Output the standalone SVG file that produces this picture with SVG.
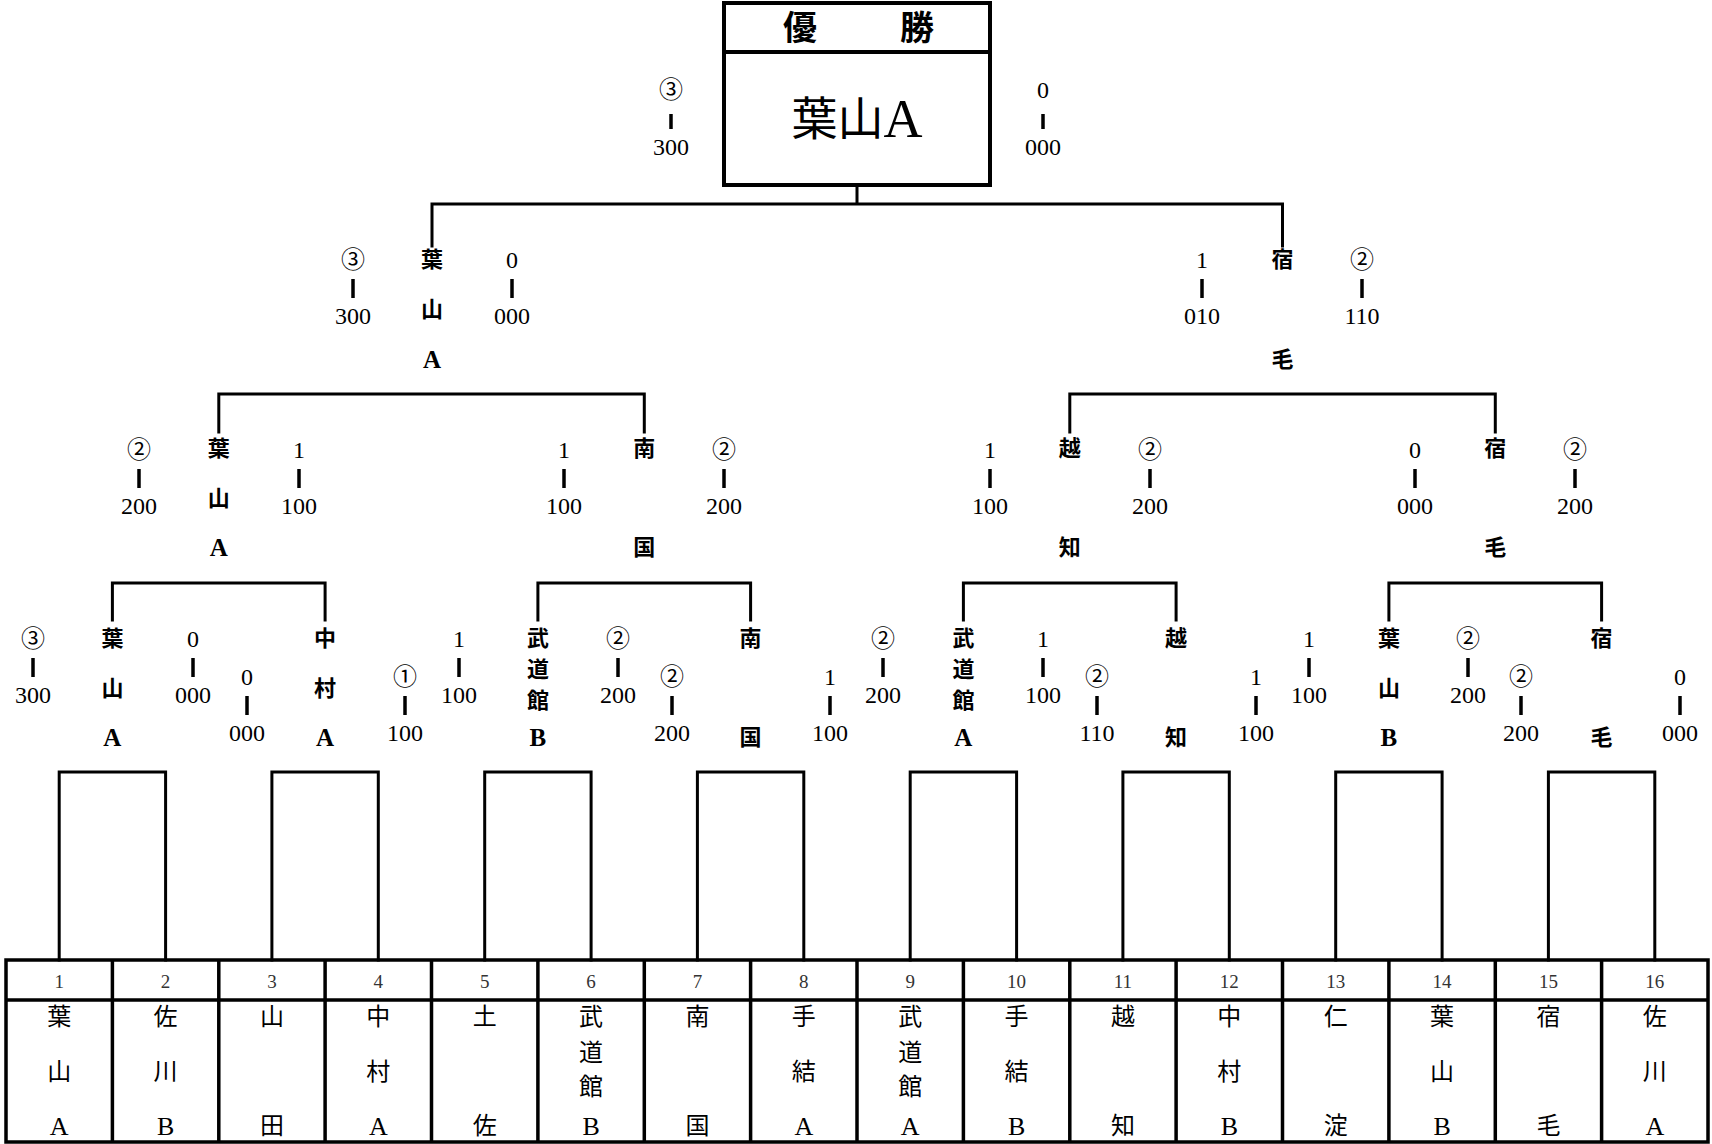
<svg xmlns="http://www.w3.org/2000/svg" width="1712" height="1144" viewBox="0 0 1712 1144">
<style>
text{text-anchor:middle;dominant-baseline:central;font-family:"Liberation Serif","Noto Sans CJK JP",serif;fill:#000}
.sc{font-size:24px}
.nm{font-size:22px;font-weight:bold}
.nm.lt{font-size:25px}
.tn{font-size:24px}
.tn.lt{font-size:26px}
.no{font-size:19px;fill:#333}
.hd{font-size:34px;font-weight:bold}
.ch{font-size:46px}
.tk{stroke:#000;stroke-width:3.5}
.ln{fill:none;stroke:#000;stroke-width:3;stroke-linejoin:miter;stroke-linecap:square}
.bx{fill:#fff;stroke:#000;stroke-width:4}
.tb{fill:none;stroke:#000;stroke-width:3.5}
</style>
<rect width="1712" height="1144" fill="#fff"/>

<g id="connectors" class="ln">
<path d="M857 186V204M432 246V204H1282.5V246"/>
<path d="M218.8 432V394H644.3V432M1069.8 432V394H1495.3V432"/>
<path d="M112.4 620V583H325.1V620M537.9 620V583H750.6V620M963.4 620V583H1176.1V620M1388.9 620V583H1601.6V620"/>
<path d="M59.2 960V772H165.6V960M271.9 960V772H378.3V960M484.7 960V772H591.1V960M697.4 960V772H803.8V960M910.2 960V772H1016.6V960M1122.9 960V772H1229.3V960M1335.7 960V772H1442.1V960M1548.4 960V772H1654.8V960"/>
</g>

<g id="champion">
<rect class="bx" x="724" y="3" width="266" height="182"/>
<line x1="724" y1="52" x2="990" y2="52" stroke="#000" stroke-width="4"/>
<text class="hd" x="800" y="28">優</text>
<text class="hd" x="917" y="28">勝</text>
<text class="ch" x="857" y="119">葉山<tspan font-size="54">A</tspan></text>
</g>

<g id="scores-final">
<g id="sf1"><text class="sc" x="671" y="90">③</text><line class="tk" x1="671" y1="114" x2="671" y2="129"/><text class="sc" x="671" y="147">300</text></g>
<g id="sf2"><text class="sc" x="1043" y="90">0</text><line class="tk" x1="1043" y1="114" x2="1043" y2="129"/><text class="sc" x="1043" y="147">000</text></g>
</g>

<g id="scores-semi">
<g id="ss1"><text class="sc" x="353" y="260">③</text><line class="tk" x1="353" y1="279" x2="353" y2="298"/><text class="sc" x="353" y="316">300</text></g>
<g id="ss2"><text class="sc" x="512" y="260">0</text><line class="tk" x1="512" y1="279" x2="512" y2="298"/><text class="sc" x="512" y="316">000</text></g>
<g id="ss3"><text class="sc" x="1202" y="260">1</text><line class="tk" x1="1202" y1="279" x2="1202" y2="298"/><text class="sc" x="1202" y="316">010</text></g>
<g id="ss4"><text class="sc" x="1362" y="260">②</text><line class="tk" x1="1362" y1="279" x2="1362" y2="298"/><text class="sc" x="1362" y="316">110</text></g>
</g>

<g id="scores-quarter">
<g id="sq1"><text class="sc" x="139" y="450">②</text><line class="tk" x1="139" y1="469" x2="139" y2="488"/><text class="sc" x="139" y="506">200</text></g>
<g id="sq2"><text class="sc" x="299" y="450">1</text><line class="tk" x1="299" y1="469" x2="299" y2="488"/><text class="sc" x="299" y="506">100</text></g>
<g id="sq3"><text class="sc" x="564" y="450">1</text><line class="tk" x1="564" y1="469" x2="564" y2="488"/><text class="sc" x="564" y="506">100</text></g>
<g id="sq4"><text class="sc" x="724" y="450">②</text><line class="tk" x1="724" y1="469" x2="724" y2="488"/><text class="sc" x="724" y="506">200</text></g>
<g id="sq5"><text class="sc" x="990" y="450">1</text><line class="tk" x1="990" y1="469" x2="990" y2="488"/><text class="sc" x="990" y="506">100</text></g>
<g id="sq6"><text class="sc" x="1150" y="450">②</text><line class="tk" x1="1150" y1="469" x2="1150" y2="488"/><text class="sc" x="1150" y="506">200</text></g>
<g id="sq7"><text class="sc" x="1415" y="450">0</text><line class="tk" x1="1415" y1="469" x2="1415" y2="488"/><text class="sc" x="1415" y="506">000</text></g>
<g id="sq8"><text class="sc" x="1575" y="450">②</text><line class="tk" x1="1575" y1="469" x2="1575" y2="488"/><text class="sc" x="1575" y="506">200</text></g>
</g>

<g id="scores-r1">
<g id="s1a"><text class="sc" x="33" y="639">③</text><line class="tk" x1="33" y1="658" x2="33" y2="677"/><text class="sc" x="33" y="695">300</text></g>
<g id="s1b"><text class="sc" x="193" y="639">0</text><line class="tk" x1="193" y1="658" x2="193" y2="677"/><text class="sc" x="193" y="695">000</text></g>
<g id="s2a"><text class="sc" x="247" y="677">0</text><line class="tk" x1="247" y1="696" x2="247" y2="715"/><text class="sc" x="247" y="733">000</text></g>
<g id="s2b"><text class="sc" x="405" y="677">①</text><line class="tk" x1="405" y1="696" x2="405" y2="715"/><text class="sc" x="405" y="733">100</text></g>
<g id="s3a"><text class="sc" x="459" y="639">1</text><line class="tk" x1="459" y1="658" x2="459" y2="677"/><text class="sc" x="459" y="695">100</text></g>
<g id="s3b"><text class="sc" x="618" y="639">②</text><line class="tk" x1="618" y1="658" x2="618" y2="677"/><text class="sc" x="618" y="695">200</text></g>
<g id="s4a"><text class="sc" x="672" y="677">②</text><line class="tk" x1="672" y1="696" x2="672" y2="715"/><text class="sc" x="672" y="733">200</text></g>
<g id="s4b"><text class="sc" x="830" y="677">1</text><line class="tk" x1="830" y1="696" x2="830" y2="715"/><text class="sc" x="830" y="733">100</text></g>
<g id="s5a"><text class="sc" x="883" y="639">②</text><line class="tk" x1="883" y1="658" x2="883" y2="677"/><text class="sc" x="883" y="695">200</text></g>
<g id="s5b"><text class="sc" x="1043" y="639">1</text><line class="tk" x1="1043" y1="658" x2="1043" y2="677"/><text class="sc" x="1043" y="695">100</text></g>
<g id="s6a"><text class="sc" x="1097" y="677">②</text><line class="tk" x1="1097" y1="696" x2="1097" y2="715"/><text class="sc" x="1097" y="733">110</text></g>
<g id="s6b"><text class="sc" x="1256" y="677">1</text><line class="tk" x1="1256" y1="696" x2="1256" y2="715"/><text class="sc" x="1256" y="733">100</text></g>
<g id="s7a"><text class="sc" x="1309" y="639">1</text><line class="tk" x1="1309" y1="658" x2="1309" y2="677"/><text class="sc" x="1309" y="695">100</text></g>
<g id="s7b"><text class="sc" x="1468" y="639">②</text><line class="tk" x1="1468" y1="658" x2="1468" y2="677"/><text class="sc" x="1468" y="695">200</text></g>
<g id="s8a"><text class="sc" x="1521" y="677">②</text><line class="tk" x1="1521" y1="696" x2="1521" y2="715"/><text class="sc" x="1521" y="733">200</text></g>
<g id="s8b"><text class="sc" x="1680" y="677">0</text><line class="tk" x1="1680" y1="696" x2="1680" y2="715"/><text class="sc" x="1680" y="733">000</text></g>
</g>

<g id="semi-names">
<g id="w-semi-1"><text class="nm" x="432" y="259">葉</text><text class="nm" x="432" y="309">山</text><text class="nm lt" x="432" y="359">A</text></g>
<g id="w-semi-2"><text class="nm" x="1282.5" y="259">宿</text><text class="nm" x="1282.5" y="359">毛</text></g>
</g>

<g id="quarter-names">
<g id="w-q-1"><text class="nm" x="218.8" y="448">葉</text><text class="nm" x="218.8" y="498">山</text><text class="nm lt" x="218.8" y="547">A</text></g>
<g id="w-q-2"><text class="nm" x="644.3" y="448">南</text><text class="nm" x="644.3" y="547">国</text></g>
<g id="w-q-3"><text class="nm" x="1069.8" y="448">越</text><text class="nm" x="1069.8" y="547">知</text></g>
<g id="w-q-4"><text class="nm" x="1495.3" y="448">宿</text><text class="nm" x="1495.3" y="547">毛</text></g>
</g>

<g id="r1-names">
<g id="w-r1-1"><text class="nm" x="112.4" y="638">葉</text><text class="nm" x="112.4" y="688">山</text><text class="nm lt" x="112.4" y="737">A</text></g>
<g id="w-r1-2"><text class="nm" x="325.1" y="638">中</text><text class="nm" x="325.1" y="688">村</text><text class="nm lt" x="325.1" y="737">A</text></g>
<g id="w-r1-3"><text class="nm" x="537.9" y="638">武</text><text class="nm" x="537.9" y="669">道</text><text class="nm" x="537.9" y="700">館</text><text class="nm lt" x="537.9" y="737" font-weight="normal">B</text></g>
<g id="w-r1-4"><text class="nm" x="750.6" y="638">南</text><text class="nm" x="750.6" y="737">国</text></g>
<g id="w-r1-5"><text class="nm" x="963.4" y="638">武</text><text class="nm" x="963.4" y="669">道</text><text class="nm" x="963.4" y="700">館</text><text class="nm lt" x="963.4" y="737" font-weight="normal">A</text></g>
<g id="w-r1-6"><text class="nm" x="1176.1" y="638">越</text><text class="nm" x="1176.1" y="737">知</text></g>
<g id="w-r1-7"><text class="nm" x="1388.9" y="638">葉</text><text class="nm" x="1388.9" y="688">山</text><text class="nm lt" x="1388.9" y="737" font-weight="normal">B</text></g>
<g id="w-r1-8"><text class="nm" x="1601.6" y="638">宿</text><text class="nm" x="1601.6" y="737">毛</text></g>
</g>

<g id="table">
<rect class="tb" x="6" y="960" width="1702" height="182"/>
<path class="tb" d="M6 1000H1708M112.4 960V1142M218.8 960V1142M325.1 960V1142M431.5 960V1142M537.9 960V1142M644.3 960V1142M750.6 960V1142M857 960V1142M963.4 960V1142M1069.8 960V1142M1176.1 960V1142M1282.5 960V1142M1388.9 960V1142M1495.3 960V1142M1601.6 960V1142"/>
</g>

<g id="teams">
<g id="t1"><text class="no" x="59.2" y="981">1</text><text class="tn" x="59.2" y="1017">葉</text><text class="tn" x="59.2" y="1072">山</text><text class="tn lt" x="59.2" y="1126">A</text></g>
<g id="t2"><text class="no" x="165.6" y="981">2</text><text class="tn" x="165.6" y="1017">佐</text><text class="tn" x="165.6" y="1072">川</text><text class="tn lt" x="165.6" y="1126">B</text></g>
<g id="t3"><text class="no" x="271.9" y="981">3</text><text class="tn" x="271.9" y="1017">山</text><text class="tn" x="271.9" y="1126">田</text></g>
<g id="t4"><text class="no" x="378.3" y="981">4</text><text class="tn" x="378.3" y="1017">中</text><text class="tn" x="378.3" y="1072">村</text><text class="tn lt" x="378.3" y="1126">A</text></g>
<g id="t5"><text class="no" x="484.7" y="981">5</text><text class="tn" x="484.7" y="1017">土</text><text class="tn" x="484.7" y="1126">佐</text></g>
<g id="t6"><text class="no" x="591.1" y="981">6</text><text class="tn" x="591.1" y="1017">武</text><text class="tn" x="591.1" y="1053">道</text><text class="tn" x="591.1" y="1087">館</text><text class="tn lt" x="591.1" y="1126">B</text></g>
<g id="t7"><text class="no" x="697.4" y="981">7</text><text class="tn" x="697.4" y="1017">南</text><text class="tn" x="697.4" y="1126">国</text></g>
<g id="t8"><text class="no" x="803.8" y="981">8</text><text class="tn" x="803.8" y="1017">手</text><text class="tn" x="803.8" y="1072">結</text><text class="tn lt" x="803.8" y="1126">A</text></g>
<g id="t9"><text class="no" x="910.2" y="981">9</text><text class="tn" x="910.2" y="1017">武</text><text class="tn" x="910.2" y="1053">道</text><text class="tn" x="910.2" y="1087">館</text><text class="tn lt" x="910.2" y="1126">A</text></g>
<g id="t10"><text class="no" x="1016.6" y="981">10</text><text class="tn" x="1016.6" y="1017">手</text><text class="tn" x="1016.6" y="1072">結</text><text class="tn lt" x="1016.6" y="1126">B</text></g>
<g id="t11"><text class="no" x="1122.9" y="981">11</text><text class="tn" x="1122.9" y="1017">越</text><text class="tn" x="1122.9" y="1126">知</text></g>
<g id="t12"><text class="no" x="1229.3" y="981">12</text><text class="tn" x="1229.3" y="1017">中</text><text class="tn" x="1229.3" y="1072">村</text><text class="tn lt" x="1229.3" y="1126">B</text></g>
<g id="t13"><text class="no" x="1335.7" y="981">13</text><text class="tn" x="1335.7" y="1017">仁</text><text class="tn" x="1335.7" y="1126">淀</text></g>
<g id="t14"><text class="no" x="1442.1" y="981">14</text><text class="tn" x="1442.1" y="1017">葉</text><text class="tn" x="1442.1" y="1072">山</text><text class="tn lt" x="1442.1" y="1126">B</text></g>
<g id="t15"><text class="no" x="1548.4" y="981">15</text><text class="tn" x="1548.4" y="1017">宿</text><text class="tn" x="1548.4" y="1126">毛</text></g>
<g id="t16"><text class="no" x="1654.8" y="981">16</text><text class="tn" x="1654.8" y="1017">佐</text><text class="tn" x="1654.8" y="1072">川</text><text class="tn lt" x="1654.8" y="1126">A</text></g>
</g>
</svg>
